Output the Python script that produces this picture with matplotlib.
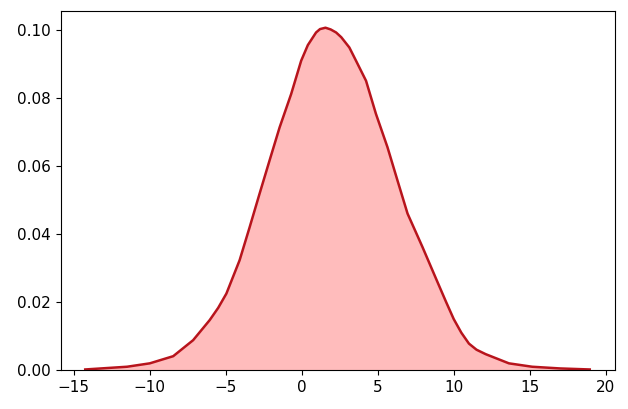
import numpy as np
import matplotlib
matplotlib.use("Agg")
import matplotlib.pyplot as plt

# density curve (x value, density)
x_vals = [-14.25, -11.5, -10.0, -8.46, -7.15, -6.06, -5.5, -4.96, -4.09, -3.43,
          -2.78, -2.12, -1.46, -0.70, -0.04, 0.4, 0.94, 1.2, 1.56, 1.9,
          2.26, 2.6, 3.13, 3.57, 4.23, 4.88, 5.64, 6.30, 6.96, 7.94,
          8.9, 9.5, 10.0, 10.5, 11.0, 11.5, 12.1, 13.63, 15.16, 17.0,
          18.95]
density = [0.0002, 0.001, 0.002, 0.0041, 0.0088, 0.0147, 0.0183, 0.0225, 0.0323, 0.042,
           0.0518, 0.0616, 0.0713, 0.0811, 0.0909, 0.0955, 0.0992, 0.1002, 0.1006, 0.1001,
           0.0992, 0.0978, 0.0948, 0.0909, 0.085, 0.0753, 0.0655, 0.0557, 0.046, 0.0362,
           0.0262, 0.0200, 0.0150, 0.011, 0.0078, 0.006, 0.0047, 0.002, 0.001, 0.0005,
           0.0002]

x = np.array(x_vals)
y = np.array(density)

fig = plt.figure(figsize=(6.28, 4.09), dpi=100)
ax = fig.add_axes([0.097, 0.095, 0.882, 0.878])

ax.fill_between(x, y, color="#ffbcbc", lw=0)
ax.plot(x, y, color="#b8141c", lw=1.8)

ax.set_ylim(0, 0.1055)
ax.set_xlim(-15.85, 20.6)
ax.set_xticks([-15, -10, -5, 0, 5, 10, 15, 20])
ax.set_yticks([0.0, 0.02, 0.04, 0.06, 0.08, 0.10])
ax.set_yticklabels(["0.00", "0.02", "0.04", "0.06", "0.08", "0.10"])
ax.tick_params(labelsize=11)

fig.savefig("out.png", dpi=100)
plt.close(fig)
